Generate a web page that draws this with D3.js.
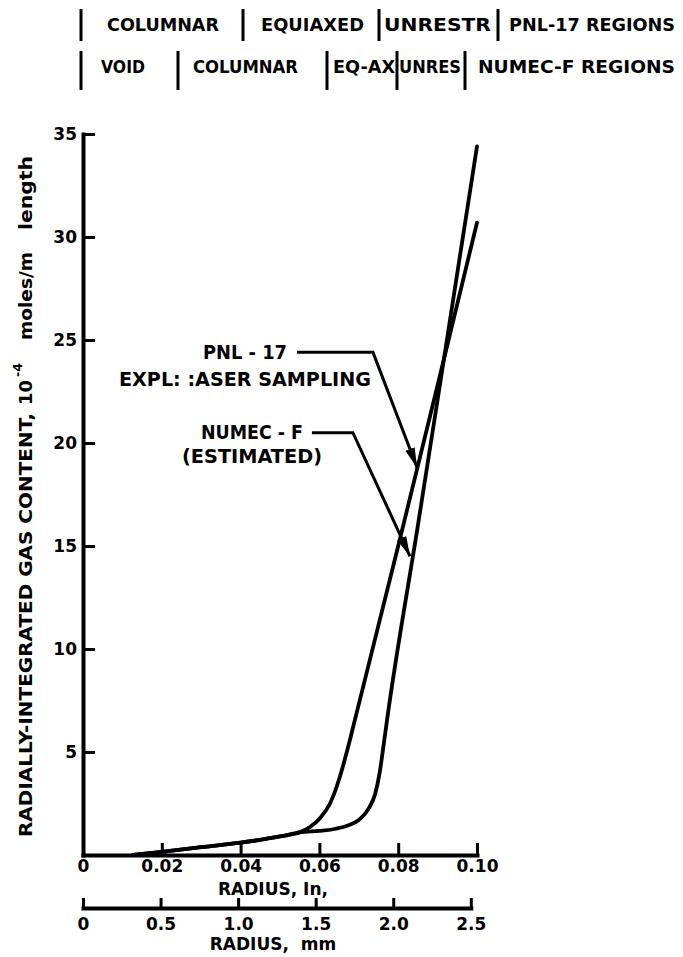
<!DOCTYPE html>
<html lang="en">
<head>
<meta charset="UTF-8">
<title>Radially-integrated gas content</title>
<script src="https://cdn.jsdelivr.net/npm/d3@7"></script>
<style>
  body { margin: 0; background: #fff; }
  svg { display: block; }
  text { font-family: "DejaVu Sans", sans-serif; font-weight: bold; fill: #000; }
</style>
</head>
<body>
<div id="chart"></div>
<script>
// tick values
const xTicks = [0, 0.02, 0.04, 0.06, 0.08, 0.10];
const mmTicks = [0, 0.5, 1.0, 1.5, 2.0, 2.5];
const yTicks = [5, 10, 15, 20, 25, 30, 35];

// PNL-17, experimental laser sampling (radius in inches, gas content 10^-4 moles/m)
const pnlRadius = [0.0127, 0.02, 0.03, 0.04, 0.05, 0.055, 0.0576, 0.0602, 0.0627, 0.0652, 0.0673, 0.069, 0.08, 0.09, 0.10];
const pnlGas    = [0, 0.15, 0.38, 0.6, 0.9, 1.1, 1.36, 1.8, 2.5, 3.8, 5.25, 6.55, 15.0, 22.8, 30.7];

// NUMEC-F, estimated
const numecRadius = [0.0127, 0.02, 0.03, 0.04, 0.05, 0.055, 0.06, 0.0635, 0.067, 0.07, 0.0725, 0.0742, 0.0753, 0.0762, 0.0772, 0.085, 0.09, 0.10];
const numecGas    = [0, 0.15, 0.38, 0.6, 0.9, 1.1, 1.17, 1.25, 1.42, 1.7, 2.25, 3.0, 4.0, 5.2, 6.6, 16.0, 22.1, 34.4];

// region headers
const headerRow1 = ["COLUMNAR", "EQUIAXED", "UNRESTR", "PNL-17 REGIONS"];
const headerRow2 = ["VOID", "COLUMNAR", "EQ-AX", "UNRES", "NUMEC-F REGIONS"];

const W = 683, H = 957;
const svg = d3.select("#chart").append("svg")
  .attr("width", W).attr("height", H);

const x = d3.scaleLinear().domain([0, 0.10]).range([83, 477]);
const y = d3.scaleLinear().domain([0, 35]).range([855, 134]);
const xmm = d3.scaleLinear().domain([0, 2.5]).range([x(0), x(2.5 / 25.4)]);

// header layout: text start/end and separator bars
const head1 = { y: 31, texts: [[107, 219], [261, 364], [384, 491], [509, 675]], bars: [81, 243, 379, 498], top: 9, bot: 41 };
const head2 = { y: 73, texts: [[101, 145], [193, 298], [333, 395], [399, 461], [478, 675]], bars: [81, 178, 327, 397, 465], top: 51, bot: 90 };

function drawHeader(labels, lay) {
  const g = svg.append("g");
  g.selectAll("text").data(labels).join("text")
    .attr("x", (d, i) => lay.texts[i][0])
    .attr("y", lay.y)
    .attr("font-size", 18)
    .attr("textLength", (d, i) => lay.texts[i][1] - lay.texts[i][0])
    .attr("lengthAdjust", "spacingAndGlyphs")
    .text(d => d);
  g.selectAll("line").data(lay.bars).join("line")
    .attr("x1", d => d).attr("x2", d => d)
    .attr("y1", lay.top).attr("y2", lay.bot)
    .attr("stroke", "#000").attr("stroke-width", 3);
}
drawHeader(headerRow1, head1);
drawHeader(headerRow2, head2);

// axes
const xAxis = svg.append("g")
  .attr("transform", `translate(0,${y(0)})`)
  .call(d3.axisBottom(x).tickValues(xTicks).tickSizeInner(-12).tickSizeOuter(0).tickPadding(5)
    .tickFormat(d => d === 0 ? "0" : d.toFixed(2)));

const mmAxis = svg.append("g")
  .attr("transform", "translate(0,908)")
  .call(d3.axisBottom(xmm).tickValues(mmTicks).tickSizeInner(-10).tickSizeOuter(0).tickPadding(10)
    .tickFormat(d => d === 0 ? "0" : d.toFixed(1)));

const yAxis = svg.append("g")
  .attr("transform", `translate(${x(0)},0)`)
  .call(d3.axisLeft(y).tickValues(yTicks).tickSizeInner(-12).tickSizeOuter(0).tickPadding(6));

[xAxis, mmAxis, yAxis].forEach(a => {
  a.select(".domain").attr("stroke", "#000").attr("stroke-width", 4).attr("stroke-linecap", "square");
  a.selectAll(".tick line").attr("stroke", "#000").attr("stroke-width", 3);
  a.selectAll(".tick text")
    .attr("fill", "#000")
    .attr("font-family", "DejaVu Sans, sans-serif")
    .attr("font-weight", "bold")
    .attr("font-size", 17);
});

// axis titles
svg.append("text")
  .attr("x", 273).attr("y", 895)
  .attr("text-anchor", "middle").attr("font-size", 17)
  .text("RADIUS, In,");
svg.append("text")
  .attr("x", 273).attr("y", 950)
  .attr("text-anchor", "middle").attr("font-size", 17)
  .attr("xml:space", "preserve")
  .text("RADIUS,  mm");

// y title, pieces laid along the rotated baseline: [text, start y, end y, size, baseline x]
const yTitleParts = [
  ["RADIALLY-INTEGRATED GAS CONTENT,", 837, 413, 18, 32],
  ["10", 405, 380, 18, 32],
  ["-4", 377, 363, 12, 22],
  ["moles/m", 340, 252, 18, 32],
  ["length", 230, 156, 18, 32]
];
svg.append("g").selectAll("text").data(yTitleParts).join("text")
  .attr("transform", d => `translate(${d[4]},${d[1]}) rotate(-90)`)
  .attr("font-size", d => d[3])
  .attr("textLength", d => d[1] - d[2])
  .attr("lengthAdjust", "spacingAndGlyphs")
  .text(d => d[0]);

// curves
const line = d3.line()
  .x(d => x(d[0]))
  .y(d => y(d[1]))
  .curve(d3.curveMonotoneX);

svg.append("path")
  .datum(d3.zip(pnlRadius, pnlGas))
  .attr("fill", "none").attr("stroke", "#000")
  .attr("stroke-width", 3.8).attr("stroke-linecap", "round")
  .attr("d", line);

svg.append("path")
  .datum(d3.zip(numecRadius, numecGas))
  .attr("fill", "none").attr("stroke", "#000")
  .attr("stroke-width", 3.8).attr("stroke-linecap", "round")
  .attr("d", line);

// annotations with arrows
svg.append("defs").append("marker")
  .attr("id", "arrow")
  .attr("markerUnits", "userSpaceOnUse")
  .attr("markerWidth", 22).attr("markerHeight", 12)
  .attr("refX", 20).attr("refY", 5)
  .attr("orient", "auto")
  .append("path")
  .attr("d", "M0,0 L20,5 L0,10 Z")
  .attr("fill", "#000");

const notes = [
  { path: [[0.0543, 24.4], [0.0736, 24.4], [0.0848, 18.8]], lines: [["PNL - 17", 84, 359], ["EXPL: :ASER SAMPLING", 252, 386]], cx: 245 },
  { path: [[0.0581, 20.5], [0.0685, 20.5], [0.0830, 14.5]], lines: [["NUMEC - F", 102, 439], ["(ESTIMATED)", 140, 463]], cx: 252 }
];

notes.forEach(n => {
  svg.append("path")
    .attr("d", d3.line().x(d => x(d[0])).y(d => y(d[1]))(n.path))
    .attr("fill", "none").attr("stroke", "#000").attr("stroke-width", 3)
    .attr("marker-end", "url(#arrow)");
  n.lines.forEach(l => {
    svg.append("text")
      .attr("x", n.cx).attr("y", l[2])
      .attr("text-anchor", "middle")
      .attr("font-size", 19)
      .attr("textLength", l[1])
      .attr("lengthAdjust", "spacingAndGlyphs")
      .text(l[0]);
  });
});
</script>
</body>
</html>
